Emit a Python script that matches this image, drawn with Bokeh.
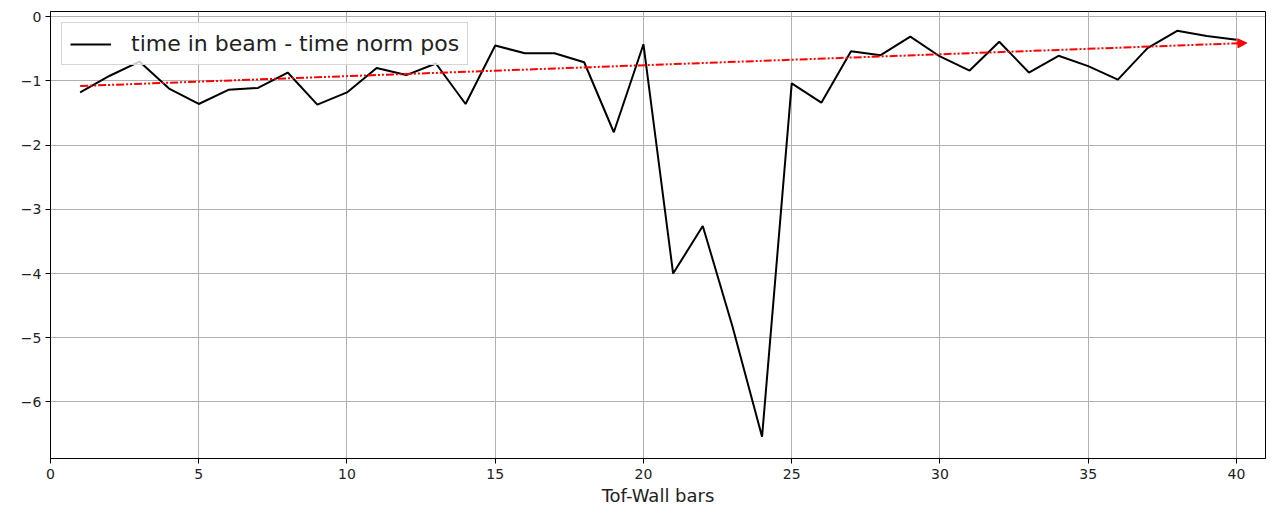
from bokeh.plotting import figure
from bokeh.models import Range1d, FixedTicker, Arrow, NormalHead, Legend, LegendItem
from bokeh.embed import file_html
from bokeh.resources import INLINE

# ---- data ----
bars = list(range(1, 41))
time_diff = [-1.18, -0.92, -0.70, -1.12, -1.36, -1.14, -1.11, -0.87, -1.37, -1.18,
             -0.80, -0.91, -0.73, -1.36, -0.45, -0.57, -0.57, -0.71, -1.80, -0.43,
             -4.00, -3.26, -4.82, -6.54, -1.04, -1.34, -0.54, -0.60, -0.31, -0.62,
             -0.84, -0.39, -0.87, -0.61, -0.77, -0.98, -0.49, -0.22, -0.30, -0.36]
trend_x = [1.0, 40.35]
trend_y = [-1.08, -0.41]
x_ticks = [0, 5, 10, 15, 20, 25, 30, 35, 40]
y_ticks = [0, -1, -2, -3, -4, -5, -6]
y_tick_labels = ["0", "\u22121", "\u22122", "\u22123", "\u22124", "\u22125", "\u22126"]
legend_label = "time in beam - time norm pos"
x_label = "Tof-Wall bars"

FONT = "DejaVu Sans"

p = figure(width=1267, height=508, output_backend="svg", toolbar_location=None,
           x_range=Range1d(0, 40.98), y_range=Range1d(-6.88, 0.08),
           min_border_left=50, min_border_top=11, min_border_right=2, min_border_bottom=48)

p.background_fill_color = "white"
p.border_fill_color = "white"
p.outline_line_color = "black"
p.outline_line_width = 1
p.outline_line_alpha = 1

for ax in (p.xaxis[0], p.yaxis[0]):
    ax.major_label_text_font = FONT
    ax.major_label_text_font_size = "14px"
    ax.major_label_text_color = "#222222"
    ax.major_tick_out = 5
    ax.major_tick_in = 0
    ax.minor_tick_out = 0
    ax.minor_tick_in = 0
    ax.axis_line_color = "black"
    ax.major_tick_line_color = "black"

p.xaxis.ticker = FixedTicker(ticks=x_ticks)
p.yaxis.ticker = FixedTicker(ticks=y_ticks)
p.yaxis.major_label_overrides = {t: l for t, l in zip(y_ticks, y_tick_labels)}
p.xaxis.major_label_standoff = 5
p.yaxis.major_label_standoff = 4
p.xaxis.axis_label = x_label
p.xaxis.axis_label_text_font = FONT
p.xaxis.axis_label_text_font_size = "18px"
p.xaxis.axis_label_text_font_style = "normal"
p.xaxis.axis_label_text_color = "#222222"
p.xaxis.axis_label_standoff = 3

p.xgrid.grid_line_color = "#b0b0b0"
p.ygrid.grid_line_color = "#b0b0b0"
p.xgrid.grid_line_width = 1
p.ygrid.grid_line_width = 1

line = p.line(bars, time_diff, line_color="black", line_width=2)

arrow = Arrow(end=NormalHead(size=9, fill_color="red", line_color="red", line_width=1),
              x_start=trend_x[0], y_start=trend_y[0], x_end=trend_x[1], y_end=trend_y[1],
              line_color="red", line_width=2, line_dash="8 2 2 2 2 2")
p.add_layout(arrow)

legend = Legend(items=[LegendItem(label=legend_label, renderers=[line])],
                location="top_left", margin=11, padding=8, spacing=0,
                glyph_width=41, glyph_height=20, label_height=20, label_standoff=20,
                label_text_font=FONT, label_text_font_size="22px", label_text_color="#222222",
                border_line_color="#cccccc", border_line_alpha=0.8,
                background_fill_alpha=0.8)
p.add_layout(legend)

open("out.html", "w").write(file_html(p, INLINE))
